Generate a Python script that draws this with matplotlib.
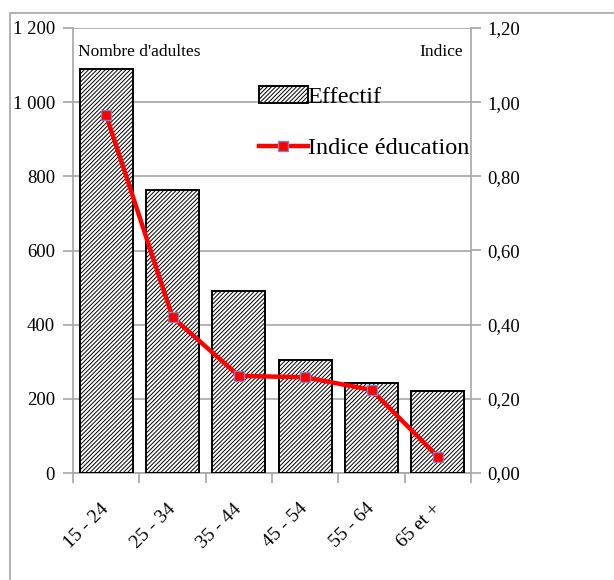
import matplotlib
matplotlib.use("Agg")
import matplotlib.pyplot as plt
from matplotlib.patches import Rectangle
from matplotlib.ticker import FuncFormatter

# données
tranches = ['15 - 24', '25 - 34', '35 - 44', '45 - 54', '55 - 64', '65 et +']
effectif = [1090, 763, 490, 305, 244, 221]
indice_education = [0.965, 0.42, 0.262, 0.258, 0.224, 0.044]

plt.rcParams['font.family'] = ['Liberation Serif', 'DejaVu Serif']
plt.rcParams['hatch.linewidth'] = 0.7
gris = '#a6a6a6'

fig = plt.figure(figsize=(6.14, 5.80), dpi=100)
ax = fig.add_axes([73/614, 1 - 473/580, (471 - 73)/614, (473 - 28)/580])

# cadre extérieur du graphique
fig.patches.append(Rectangle((10/614, -0.2), 2, 1.2 - 13/580, transform=fig.transFigure,
                             fill=False, edgecolor=gris, linewidth=1.2))

x = list(range(len(tranches)))
ax.bar(x, effectif, width=0.8, color='white', edgecolor='black', hatch='////////',
       linewidth=1.4, label='Effectif', zorder=3)
ax.set_xlim(-0.5, len(tranches) - 0.5)
ax.set_ylim(0, 1200)
ax.set_yticks(range(0, 1201, 200))
ax.yaxis.set_major_formatter(FuncFormatter(lambda v, p: f'{int(v):,}'.replace(',', ' ')))
ax.grid(axis='y', color=gris, linewidth=1.2, zorder=0)
ax.set_axisbelow(True)

ax.set_xticks(x)
ax.set_xticklabels(tranches, rotation=45, ha='right', va='center', rotation_mode='anchor')
ax.set_xticks([i - 0.5 for i in range(len(tranches) + 1)], minor=True)
ax.tick_params(axis='x', which='major', length=0, pad=24, labelsize=14)
ax.tick_params(axis='x', which='minor', length=7, color=gris, width=1.2)
ax.tick_params(axis='y', length=7, color=gris, width=1.2, labelsize=13.5, pad=6)

for s in ['top', 'right']:
    ax.spines[s].set_visible(False)
for s in ['left', 'bottom']:
    ax.spines[s].set_color(gris)
    ax.spines[s].set_linewidth(1.2)

ax2 = ax.twinx()
ax2.plot(x, indice_education, color='red', linewidth=3.2, marker='s', markersize=7.5,
         markerfacecolor='red', markeredgecolor='#7f86c0', markeredgewidth=1,
         label='Indice éducation', zorder=4)
ax2.set_ylim(0, 1.2)
ax2.set_yticks([i * 0.2 for i in range(7)])
ax2.yaxis.set_major_formatter(FuncFormatter(lambda v, p: f'{v:.2f}'.replace('.', ',')))
ax2.tick_params(axis='y', length=7, color=gris, width=1.2, labelsize=13.5, pad=5)
for s in ['top', 'left', 'bottom']:
    ax2.spines[s].set_visible(False)
ax2.spines['right'].set_color(gris)
ax2.spines['right'].set_linewidth(1.2)

ax.text(0.012, 0.963, "Nombre d'adultes", transform=ax.transAxes, fontsize=12.5,
        ha='left', va='top')
ax.text(0.98, 0.963, 'Indice', transform=ax.transAxes, fontsize=12.5,
        ha='right', va='top')

h1, l1 = ax.get_legend_handles_labels()
h2, l2 = ax2.get_legend_handles_labels()
fig.legend(h1 + h2, l1 + l2, loc='upper left', bbox_to_anchor=(247/614, 1 - 74/580),
           frameon=False, fontsize=17.5, handlelength=2.0, handletextpad=0.0,
           labelspacing=1.2, borderpad=0)

fig.savefig('out.png', dpi=100)
